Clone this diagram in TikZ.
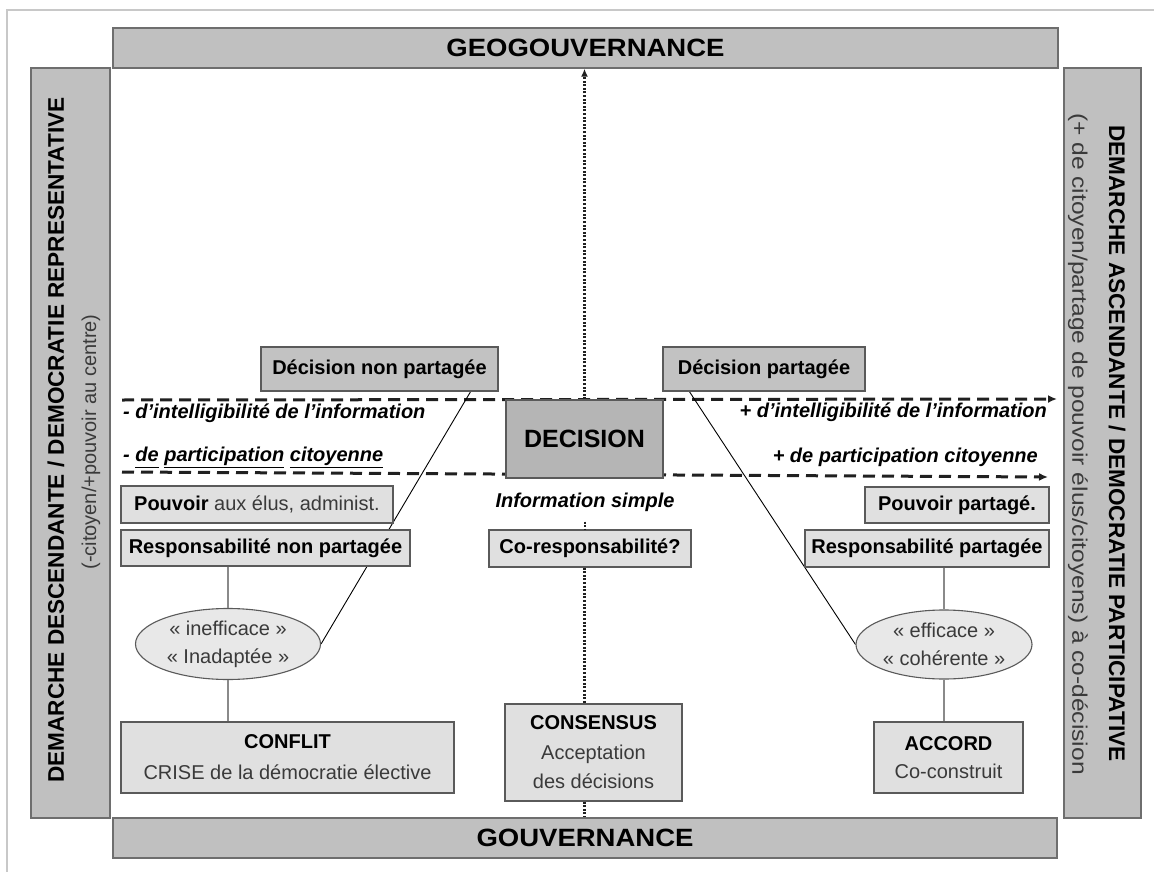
\documentclass[tikz,border=0pt]{standalone}
\usepackage{fontspec}
\setmainfont{Liberation Sans}
\newfontfamily\widefont{Liberation Sans}[FakeStretch=1.17]
\newfontfamily\headfont{Liberation Sans}[FakeStretch=1.1]
\usetikzlibrary{arrows.meta,calc,backgrounds,shapes.geometric}
\definecolor{barfill}{HTML}{C0C0C0}
\definecolor{barborder}{HTML}{6E6E6E}
\definecolor{darkfill}{HTML}{C2C2C2}
\definecolor{decfill}{HTML}{B5B5B5}
\definecolor{lightfill}{HTML}{E0E0E0}
\definecolor{ellfill}{HTML}{E8E8E8}
\definecolor{boxborder}{HTML}{5A5A5A}
\definecolor{textgray}{HTML}{3A3A3A}
\definecolor{linegray}{HTML}{8A8A8A}
\definecolor{framegray}{HTML}{C8C8C8}
\definecolor{dashcol}{HTML}{202020}
\newcommand\wordul[1]{\underline{#1\vphantom{p}}}
\tikzset{
  bar/.style={draw=barborder, fill=barfill, line width=1.4pt, inner sep=0pt},
  headtext/.style={font=\headfont\bfseries\fontsize{25}{30}\selectfont},
  darkbox/.style={draw=boxborder, fill=darkfill, line width=1.2pt, inner sep=0pt,
    align=center, font=\bfseries\fontsize{20}{24}\selectfont},
  lightbox/.style={draw=boxborder, fill=lightfill, line width=1.2pt, inner sep=0pt,
    align=center, font=\bfseries\fontsize{20}{24}\selectfont},
  ellnode/.style={ellipse, draw=boxborder, fill=ellfill, line width=1.1pt, inner sep=0pt,
    align=center, text=textgray, font=\fontsize{20}{28}\selectfont},
  lab/.style={inner sep=0pt, font=\bfseries\itshape\fontsize{20}{24}\selectfont},
  dashedarrow/.style={draw=dashcol, line width=3pt, dash pattern=on 12pt off 7pt,
    -{Latex[length=9pt,width=8pt]}},
  dottedline/.style={draw=dashcol, line width=2.6pt, dash pattern=on 2pt off 1.6pt},
  thinline/.style={draw=black, line width=0.9pt},
  grayline/.style={draw=linegray, line width=1.5pt},
  sidetitle/.style={inner sep=0pt, font=\bfseries\fontsize{22.6}{27}\selectfont},
}
\begin{document}
\begin{tikzpicture}[x=1pt,y=-1pt]
\useasboundingbox (0,0) rectangle (1154,872);

% bars
\node[bar, minimum width=945pt, minimum height=40pt, headtext] (geo) at (585.5,48) {GEOGOUVERNANCE};
\node[bar, minimum width=944pt, minimum height=40pt, headtext] (gouv) at (585,838) {GOUVERNANCE};
\node[bar, minimum width=79pt, minimum height=750pt] (lbar) at (70.5,443) {};
\node[bar, minimum width=77pt, minimum height=750pt] (rbar) at (1102.5,443) {};
\node[sidetitle, rotate=90] (ltitle) at (56,440) {DEMARCHE DESCENDANTE / DEMOCRATIE REPRESENTATIVE};
\node[inner sep=0pt, rotate=90, text=textgray, font=\fontsize{20}{24}\selectfont] (lsub) at (91,442) {(-citoyen/+pouvoir au centre)};
\node[sidetitle, rotate=-90] (rtitle) at (1117,443.5) {DEMARCHE ASCENDANTE / DEMOCRATIE PARTICIPATIVE};
\node[inner sep=0pt, rotate=-90, text=textgray, font=\widefont\fontsize{21}{24}\selectfont] (rsub) at (1078,444) {(+ de citoyen/partage de pouvoir élus/citoyens) à co-décision};

% boxes
\node[darkbox, minimum width=237pt, minimum height=44pt] (dnp) at (379.5,369) {Décision non partagée};
\node[darkbox, minimum width=202pt, minimum height=44pt] (dp) at (764,369) {Décision partagée};
\node[darkbox, fill=decfill, minimum width=157pt, minimum height=78pt, font=\bfseries\fontsize{25}{30}\selectfont] (decision) at (584.5,439) {DECISION};
\node[lightbox, minimum width=272pt, minimum height=37pt] (pouv1) at (257,504.5) {Pouvoir \textcolor{textgray}{\mdseries aux élus, administ.}};
\node[lightbox, minimum width=289pt, minimum height=36pt] (resp1) at (265.5,548) {Responsabilité non partagée};
\node[lab, fill=white, inner sep=1pt] (infosimple) at (585,502) {Information simple};
\node[lightbox, minimum width=202pt, minimum height=37pt] (coresp) at (590,548.5) {Co-responsabilité?};
\node[lightbox, minimum width=184pt, minimum height=36pt] (pouv2) at (957,505) {Pouvoir partagé.};
\node[lightbox, minimum width=244pt, minimum height=37pt] (resp2) at (927,548.5) {Responsabilité partagée};
\node[ellnode, minimum width=185pt, minimum height=71pt] (ell1) at (228,644) {« inefficace »\\« Inadaptée »};
\node[ellnode, minimum width=176pt, minimum height=69pt] (ell2) at (944,644.5) {« efficace »\\« cohérente »};
\node[lightbox, minimum width=333pt, minimum height=71pt, font=\fontsize{20}{31}\selectfont] (conflit) at (287.5,757.5) {\textbf{CONFLIT}\\\textcolor{textgray}{CRISE de la démocratie élective}};
\node[lightbox, minimum width=177pt, minimum height=97pt, font=\fontsize{20}{29.5}\selectfont] (consensus) at (593.5,752.5) {\textbf{CONSENSUS}\\\textcolor{textgray}{Acceptation}\\\textcolor{textgray}{des décisions}};
\node[lightbox, minimum width=149pt, minimum height=71pt, font=\fontsize{20}{28}\selectfont] (accord) at (948.5,757.5) {\textbf{ACCORD}\\\textcolor{textgray}{Co-construit}};

% dashed labels
\node[lab, anchor=west] (lab1) at (123,413) {- d’intelligibilité de l’information};
\node[lab, anchor=west] (lab2) at (123,457) {- \wordul{de} \wordul{participation} \wordul{citoyenne}};
\node[lab, anchor=east] (lab3) at (1047,412) {+ d’intelligibilité de l’information};
\node[lab, anchor=east] (lab4) at (1038,457) {+ de participation citoyenne};

% free ends of the dashed arrows
\coordinate (d1s) at (122,400);
\coordinate (d1e) at (1057,399);
\coordinate (d2s) at (122,472);
\coordinate (d2e) at (1048,477);

\begin{scope}[on background layer]
  \fill[white] (0,0) rectangle (1154,872);
  \draw[framegray, line width=1.5pt] (1154,10) -- (7,10) -- (7,872);
  \draw[dashedarrow] (d1s) -- (d1e);
  \draw[dashedarrow] (d2s) -- (d2e);
  \draw[thinline] ($(dnp.south east)+(-28,0)$) -- (ell1.east);
  \draw[thinline] ($(dp.south west)+(27,0)$) -- (ell2.west);
\end{scope}

% gray connectors
\draw[grayline] (resp1.south -| ell1.north) -- (ell1.north);
\draw[grayline] (ell1.south) -- (ell1.south |- conflit.north);
\draw[grayline] (resp2.south -| ell2.north) -- (ell2.north);
\draw[grayline] (ell2.south) -- (ell2.south |- accord.north);

% dotted axis
\draw[dottedline, -{Latex[length=8pt,width=7pt]}] (decision.north) -- (decision.north |- geo.south);
\draw[dottedline, shorten <=9pt] (infosimple.south) -- (infosimple.south |- coresp.north);
\draw[dottedline] (coresp.south -| decision.north) -- (consensus.north -| decision.north);
\draw[dottedline] (consensus.south -| decision.north) -- (gouv.north -| decision.north);
\end{tikzpicture}
\end{document}
